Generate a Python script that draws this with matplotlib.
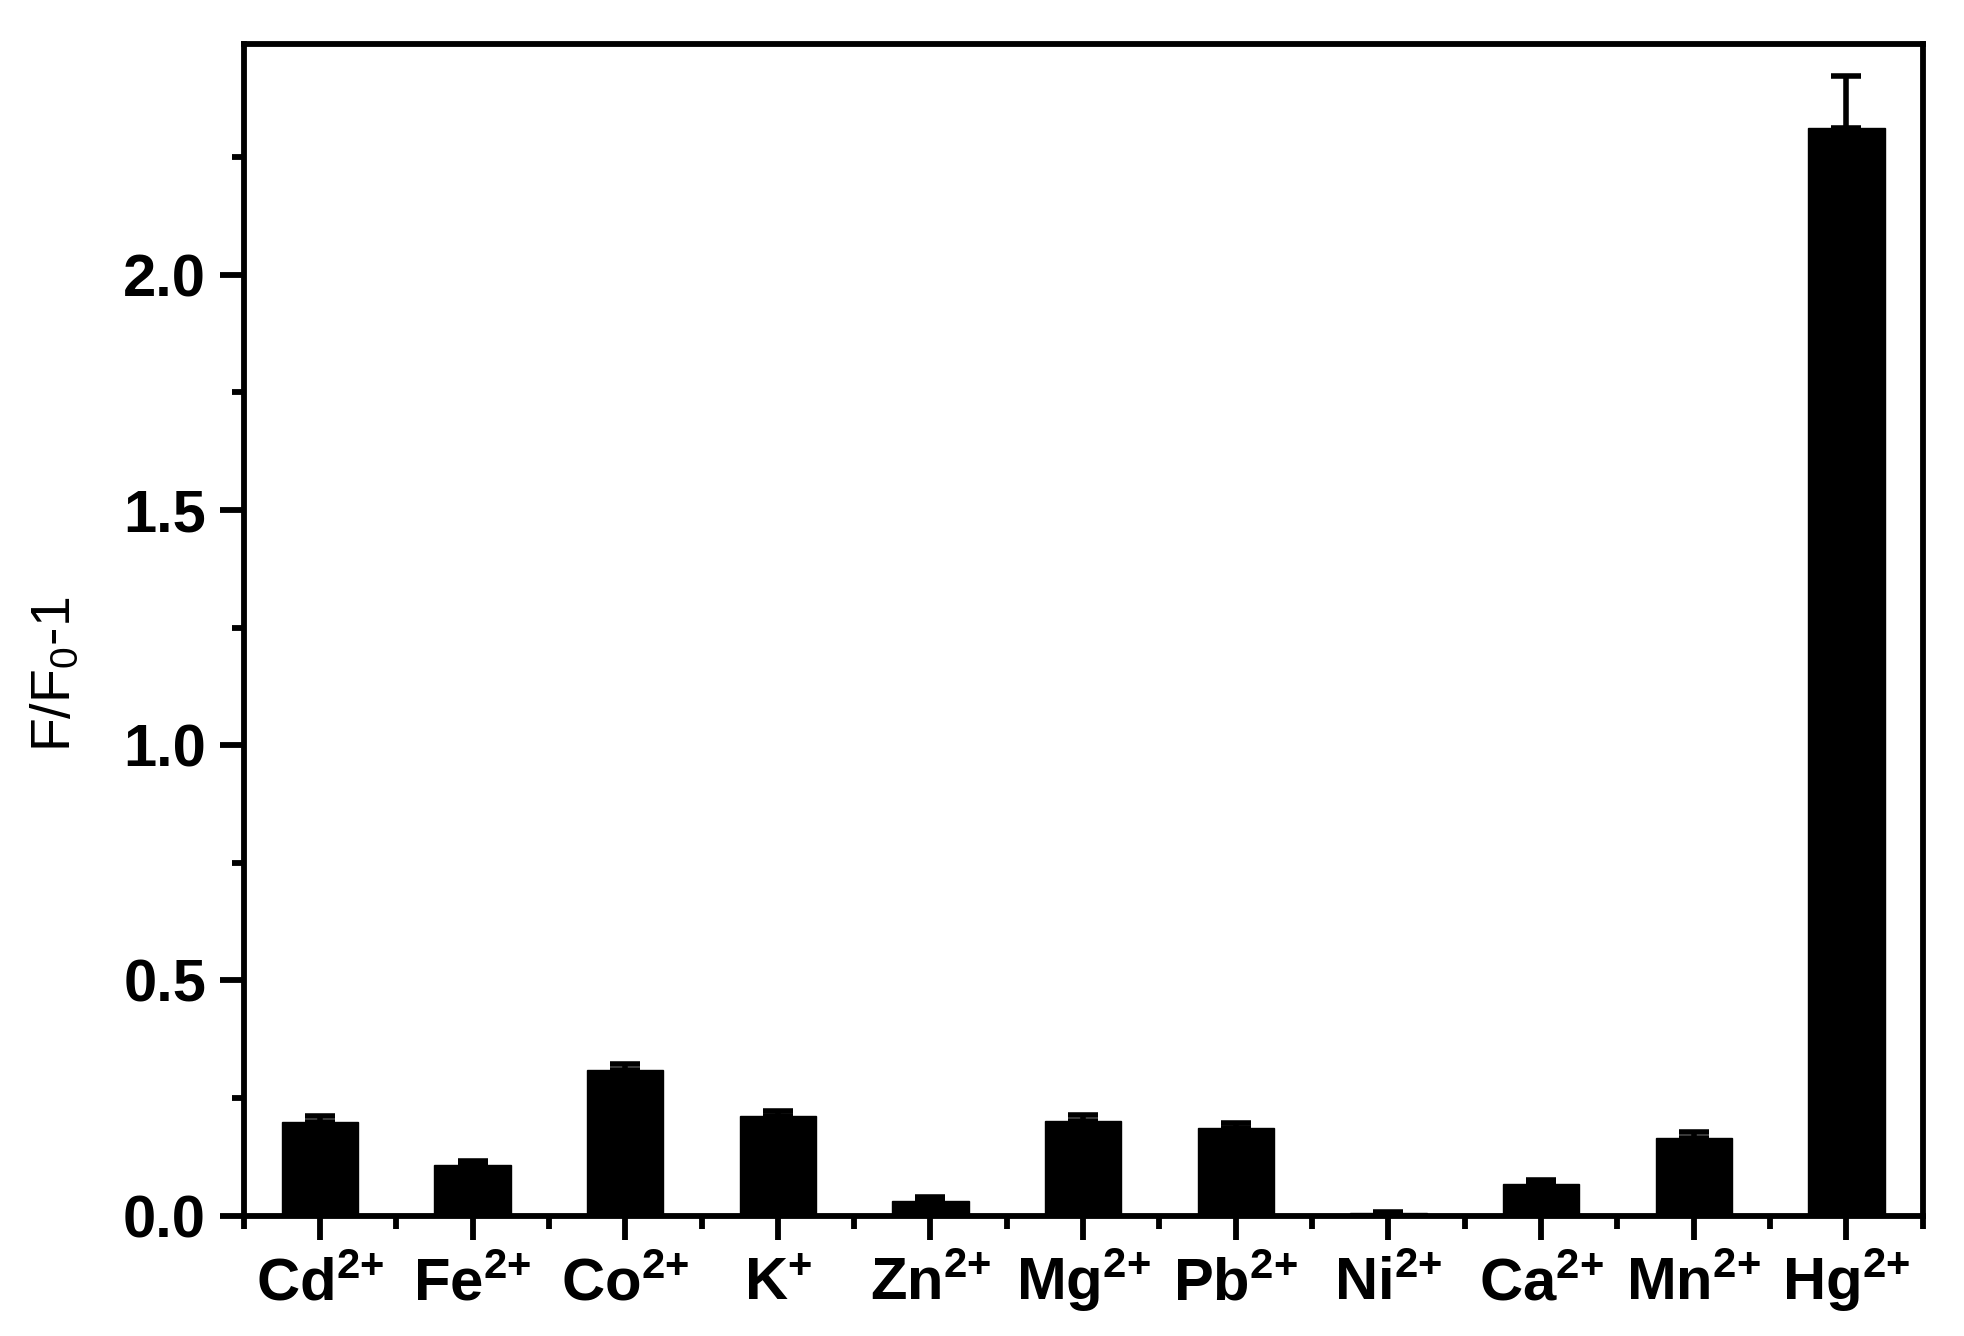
import matplotlib
matplotlib.use("Agg")
import matplotlib.pyplot as plt
from matplotlib.ticker import MultipleLocator, FixedLocator
from matplotlib import font_manager
import numpy as np

ions = ["Cd", "Fe", "Co", "K", "Zn", "Mg", "Pb", "Ni", "Ca", "Mn", "Hg"]
charges = ["2+", "2+", "2+", "+", "2+", "2+", "2+", "2+", "2+", "2+", "2+"]
values = [0.199, 0.108, 0.310, 0.213, 0.032, 0.202, 0.186, 0.006, 0.067, 0.165, 2.311]
errors = [0.012, 0.009, 0.013, 0.009, 0.007, 0.013, 0.011, 0.003, 0.010, 0.012, 0.112]

names = {f.name for f in font_manager.fontManager.ttflist}
xfont = 'Liberation Sans Narrow' if 'Liberation Sans Narrow' in names else 'Liberation Sans'

plt.rcParams['mathtext.fontset'] = 'custom'
plt.rcParams['mathtext.rm'] = f'{xfont}:bold'
plt.rcParams['mathtext.it'] = f'{xfont}:bold'
plt.rcParams['mathtext.bf'] = f'{xfont}:bold'

fig = plt.figure(figsize=(19.64, 13.36), dpi=100)
ax = fig.add_axes([0.124, 0.090, 0.855, 0.877])

x = np.arange(len(ions))
ax.bar(x, values, width=0.5, color='black', edgecolor='black')
ax.errorbar(x, values, yerr=[np.zeros(len(errors)), errors], fmt='none',
            ecolor='black', elinewidth=4, capsize=11, capthick=4)

ax.set_xlim(-0.5, 10.5)
ax.set_ylim(0, 2.49)
ax.yaxis.set_major_locator(MultipleLocator(0.5))
ax.yaxis.set_minor_locator(MultipleLocator(0.25))
ax.set_xticks(x)
ax.xaxis.set_minor_locator(FixedLocator(np.arange(-0.5, 11, 1.0)))
labels = [f"{i}$^{{{c[:-1]}{{+}}}}$" for i, c in zip(ions, charges)]
ax.set_xticklabels(labels, fontsize=43, fontfamily=xfont, fontweight='bold')
ax.set_yticklabels([f"{v:.1f}" for v in ax.get_yticks()], fontsize=43,
                   fontfamily='Liberation Sans', fontweight='bold')
for lbl in ax.get_xticklabels():
    lbl.set_verticalalignment('baseline')

for s in ax.spines.values():
    s.set_linewidth(4.2)
ax.tick_params(axis='both', which='major', direction='out', length=17, width=4.2)
ax.tick_params(axis='both', which='minor', direction='out', length=9, width=4.2)
ax.tick_params(axis='x', which='major', pad=44)
ax.tick_params(axis='y', which='major', pad=10)

ax.set_ylabel("F/F$_\\mathregular{0}$-1", fontsize=40, fontfamily='Liberation Sans')
ax.yaxis.set_label_coords(-0.096, 0.462)

fig.savefig("out.png", dpi=100, facecolor='white')
